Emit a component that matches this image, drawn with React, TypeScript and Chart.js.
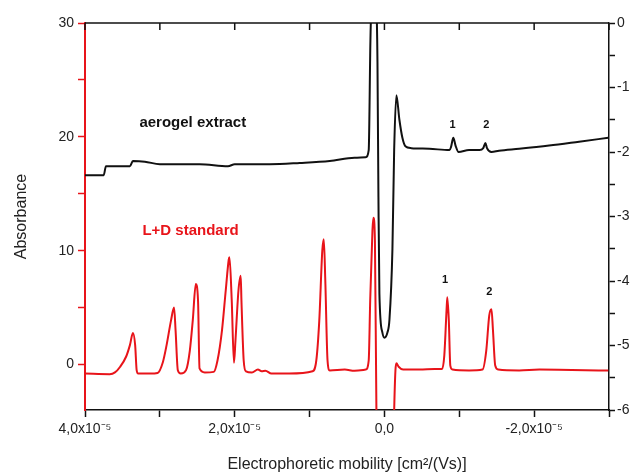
import React, { useEffect, useRef } from "react";
import { Chart, registerables } from "chart.js";

Chart.register(...registerables);

// mobility in units of 1e-5 cm^2/(Vs)
const blackX = [4.0, 3.75, 3.72, 3.4, 3.36, 3.2, 3.0, 2.47, 2.09, 2.0, 1.53, 1.13, 0.73, 0.4, 0.25, 0.21, 0.187, 0.173, 0.13, 0.107, 0.093, 0.08, 0.067, 0.027, 0.0, -0.04, -0.067, -0.107, -0.13, -0.16, -0.2, -0.24, -0.28, -0.36, -0.6, -0.87, -0.89, -0.92, -0.95, -0.99, -1.13, -1.27, -1.32, -1.35, -1.37, -1.43, -1.53, -1.8, -2.2, -2.6, -2.99];
const blackY = [-2.36, -2.36, -2.22, -2.22, -2.14, -2.15, -2.19, -2.19, -2.22, -2.19, -2.19, -2.17, -2.14, -2.09, -2.08, -1.97, -0.26, 0.3, 0.6, 0.3, -0.6, -2.7, -4.2, -4.8, -4.88, -4.8, -4.6, -3.5, -1.97, -1.12, -1.5, -1.78, -1.91, -1.94, -1.95, -1.97, -1.92, -1.78, -1.9, -2.0, -1.97, -1.97, -1.94, -1.86, -1.94, -2.0, -1.98, -1.95, -1.9, -1.84, -1.78];

const redX = [4.0, 3.67, 3.6, 3.53, 3.45, 3.4, 3.36, 3.33, 3.31, 3.29, 3.13, 3.03, 2.96, 2.91, 2.85, 2.81, 2.79, 2.76, 2.72, 2.65, 2.6, 2.56, 2.52, 2.49, 2.47, 2.4, 2.28, 2.23, 2.17, 2.12, 2.08, 2.07, 2.04, 2.01, 1.99, 1.95, 1.92, 1.91, 1.88, 1.85, 1.77, 1.69, 1.64, 1.59, 1.51, 1.27, 0.96, 0.91, 0.87, 0.83, 0.81, 0.79, 0.76, 0.73, 0.53, 0.4, 0.25, 0.21, 0.19, 0.16, 0.147, 0.127, 0.107, 0.093, 0.067, -0.107, -0.13, -0.147, -0.16, -0.19, -0.25, -0.47, -0.67, -0.77, -0.8, -0.83, -0.84, -0.86, -0.88, -0.91, -1.13, -1.31, -1.36, -1.4, -1.43, -1.45, -1.48, -1.52, -1.8, -2.07, -2.99];
const redY = [-0.8, -0.85, -0.7, -0.2, 0.7, 1.7, 2.76, 1.7, -0.5, -0.8, -0.8, -0.75, 0.2, 1.7, 3.9, 5.0, 3.0, -0.5, -0.8, -0.5, 1.2, 3.9, 7.06, 5.6, -0.35, -0.7, -0.65, 0.35, 3.0, 6.5, 9.2, 9.42, 5.65, 0.15, 2.1, 6.5, 7.8, 5.6, 0.35, -0.6, -0.7, -0.45, -0.6, -0.55, -0.8, -0.8, -0.6, 0.35, 3.9, 10.0, 11.0, 7.4, 0.35, -0.53, -0.45, -0.55, -0.45, 0.35, 5.65, 11.8, 12.9, 10.9, -4.06, -7.6, -12.0, -12.0, -4.06, -0.53, 0.1, -0.2, -0.45, -0.45, -0.4, -0.4, 0.8, 4.8, 5.9, 3.9, -0.1, -0.45, -0.53, -0.45, 1.2, 4.3, 4.85, 3.0, -0.1, -0.45, -0.53, -0.45, -0.53];

const xTicks = [-3, -2, -1, 0, 1, 2, 3, 4];
const xTickLabels: Record<string, string> = { "4": "4,0x10\u207B\u2075", "2": "2,0x10\u207B\u2075", "0": "0,0", "-2": "-2,0x10\u207B\u2075" };
const leftTicks = [0, 5, 10, 15, 20, 25, 30];
const leftTickLabels: Record<string, string> = { "0": "0", "10": "10", "20": "20", "30": "30" };
const rightTicks = [-6, -5.5, -5, -4.5, -4, -3.5, -3, -2.5, -2, -1.5, -1, -0.5, 0];
const rightTickLabels: Record<string, string> = { "0": "0", "-1": "-1", "-2": "-2", "-3": "-3", "-4": "-4", "-5": "-5", "-6": "-6" };

const annotations = [
  { text: "aerogel extract", x: 2.56, y: 21.2, axis: "y", color: "#111", size: 15 },
  { text: "L+D standard", x: 2.59, y: 11.7, axis: "y", color: "#e8141a", size: 15 },
  { text: "1", x: -0.91, y: -1.58, axis: "y2", color: "#111", size: 11 },
  { text: "2", x: -1.36, y: -1.58, axis: "y2", color: "#111", size: 11 },
  { text: "1", x: -0.81, y: 7.4, axis: "y", color: "#111", size: 11 },
  { text: "2", x: -1.4, y: 6.35, axis: "y", color: "#111", size: 11 },
];

const RED = "#e8141a";
const FONT = "'Liberation Sans', Arial, sans-serif";

export default function App() {
  const ref = useRef<HTMLCanvasElement | null>(null);
  useEffect(() => {
    document.body.style.margin = "0";
    const canvas = ref.current!;
    const overlay = {
      id: "overlay",
      afterDraw(chart: any) {
        const ctx = chart.ctx;
        const { left, right, top } = chart.chartArea;
        const xs = chart.scales.x;
        ctx.save();
        ctx.strokeStyle = "#111";
        ctx.lineWidth = 1.5;
        ctx.beginPath();
        ctx.moveTo(left, top);
        ctx.lineTo(right, top);
        ctx.stroke();
        xTicks.forEach((v) => {
          const px = xs.getPixelForValue(v);
          ctx.beginPath();
          ctx.moveTo(px, top);
          ctx.lineTo(px, top + 7);
          ctx.stroke();
        });
        annotations.forEach((a) => {
          const px = xs.getPixelForValue(a.x);
          const py = chart.scales[a.axis].getPixelForValue(a.y);
          ctx.font = `bold ${a.size}px ${FONT}`;
          ctx.fillStyle = a.color;
          ctx.textAlign = "center";
          ctx.textBaseline = "middle";
          ctx.fillText(a.text, px, py);
        });
        ctx.restore();
      },
    };
    const chart = new Chart(canvas, {
      type: "line",
      data: {
        datasets: [
          {
            data: redX.map((x, i) => ({ x, y: redY[i] })),
            borderColor: RED,
            borderWidth: 2,
            pointRadius: 0,
            yAxisID: "y",
            cubicInterpolationMode: "monotone",
            clip: 0,
          } as any,
          {
            data: blackX.map((x, i) => ({ x, y: blackY[i] })),
            borderColor: "#111",
            borderWidth: 2,
            pointRadius: 0,
            yAxisID: "y2",
            cubicInterpolationMode: "monotone",
            clip: 0,
          } as any,
        ],
      },
      options: {
        animation: false,
        responsive: false,
        layout: { padding: { top: 23, left: 0, right: 0, bottom: 0 } },
        plugins: { legend: { display: false }, tooltip: { enabled: false } },
        scales: {
          x: {
            type: "linear",
            reverse: true,
            min: -3,
            max: 4,
            afterBuildTicks: (s: any) => { s.ticks = xTicks.map((v) => ({ value: v })); },
            afterFit: (s: any) => { s.height = 64; },
            ticks: {
              autoSkip: false,
              maxRotation: 0,
              padding: 4,
              color: "#222",
              font: { size: 14, family: FONT },
              callback: (v: any) => xTickLabels[String(v)] ?? "",
            },
            grid: { drawOnChartArea: false, tickLength: 7, color: "#111", tickWidth: 1.5 },
            border: { color: "#111", width: 1.5 },
            title: { display: true, text: "Electrophoretic mobility [cm\u00B2/(Vs)]", color: "#222", font: { size: 16, family: FONT }, padding: { top: 10, bottom: 0 } },
          },
          y: {
            type: "linear",
            position: "left",
            min: -4,
            max: 30,
            afterBuildTicks: (s: any) => { s.ticks = leftTicks.map((v) => ({ value: v })); },
            afterFit: (s: any) => { s.width = 85; },
            ticks: {
              autoSkip: false,
              padding: 4,
              color: "#222",
              font: { size: 14, family: FONT },
              callback: (v: any) => leftTickLabels[String(v)] ?? "",
            },
            grid: { drawOnChartArea: false, tickLength: 7, color: RED, tickWidth: 1.5 },
            border: { color: RED, width: 2 },
            title: { display: true, text: "Absorbance", color: "#222", font: { size: 16, family: FONT }, padding: { top: 12, bottom: 4 } },
          },
          y2: {
            type: "linear",
            position: "right",
            min: -6,
            max: 0,
            afterBuildTicks: (s: any) => { s.ticks = rightTicks.map((v) => ({ value: v })); },
            afterFit: (s: any) => { s.width = 27; },
            ticks: {
              autoSkip: false,
              padding: 2,
              color: "#222",
              font: { size: 14, family: FONT },
              callback: (v: any) => rightTickLabels[String(v)] ?? "",
            },
            grid: { drawOnChartArea: false, tickLength: 6, color: "#111", tickWidth: 1.5 },
            border: { color: "#111", width: 1.5 },
          },
        },
      } as any,
      plugins: [overlay],
    });
    return () => chart.destroy();
  }, []);
  return (
    <div style={{ position: "fixed", left: 0, top: 0, width: 636, height: 474, background: "#fff" }}>
      <canvas ref={ref} width={636} height={474} style={{ width: 636, height: 474 }} />
    </div>
  );
}
